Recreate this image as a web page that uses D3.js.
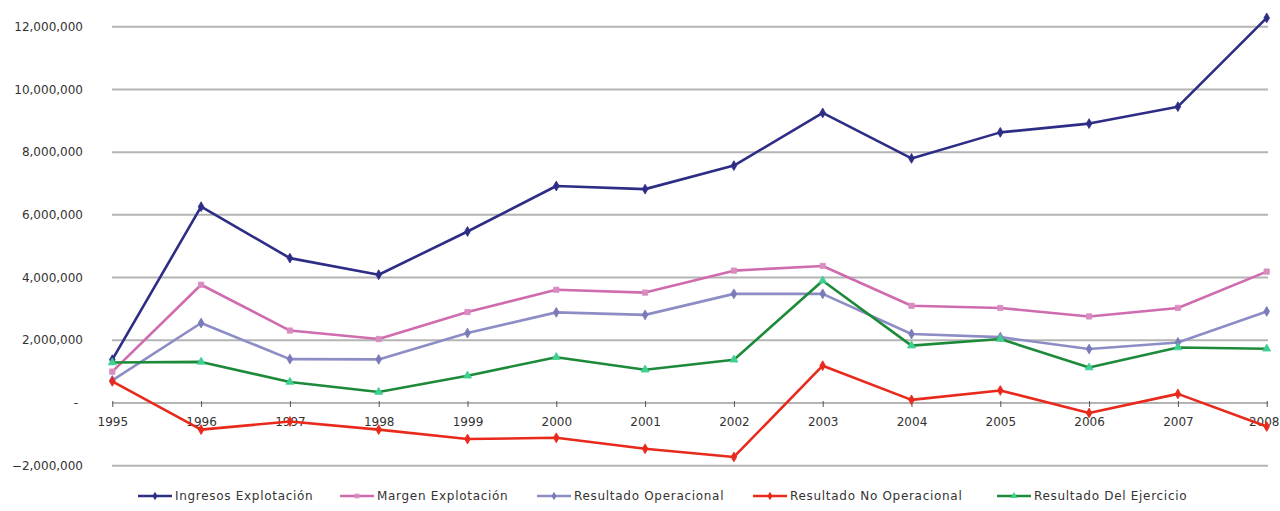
<!DOCTYPE html>
<html>
<head>
<meta charset="utf-8">
<script src="https://cdn.jsdelivr.net/npm/d3@7"></script>
<style>
  html, body { margin: 0; padding: 0; background: #fff; }
  svg text { font-family: "DejaVu Sans", Verdana, sans-serif; fill: #333; }
</style>
</head>
<body>
<svg id="chart" width="1280" height="511"></svg>
<script>
// data
var years = ["1995", "1996", "1997", "1998", "1999", "2000", "2001",
             "2002", "2003", "2004", "2005", "2006", "2007", "2008"];

var ingresosExplotacion = [1380000, 6260000, 4620000, 4090000, 5470000, 6920000, 6820000,
                           7570000, 9250000, 7800000, 8630000, 8910000, 9450000, 12280000];
var margenExplotacion   = [1000000, 3770000, 2310000, 2040000, 2900000, 3610000, 3520000,
                           4220000, 4370000, 3100000, 3030000, 2760000, 3030000, 4190000];
var resultadoOperacional = [720000, 2550000, 1400000, 1390000, 2230000, 2890000, 2810000,
                            3480000, 3480000, 2200000, 2100000, 1720000, 1930000, 2920000];
var resultadoNoOperacional = [690000, -850000, -590000, -850000, -1150000, -1110000, -1460000,
                              -1720000, 1190000, 100000, 400000, -320000, 290000, -750000];
var resultadoEjercicio  = [1290000, 1310000, 670000, 350000, 870000, 1460000, 1060000,
                           1380000, 3900000, 1830000, 2040000, 1130000, 1770000, 1730000];

var yTicks = [-2000000, 0, 2000000, 4000000, 6000000, 8000000, 10000000, 12000000];

var series = [
  { name: "Ingresos Explotación",     values: ingresosExplotacion,    color: "#2e2d86", mark: "#2e2d86", symbol: d3.symbolDiamond },
  { name: "Margen Explotación",       values: margenExplotacion,      color: "#cf6cae", mark: "#d98cc0", symbol: d3.symbolSquare },
  { name: "Resultado Operacional",    values: resultadoOperacional,   color: "#8d8dc6", mark: "#7a7ab8", symbol: d3.symbolDiamond },
  { name: "Resultado No Operacional", values: resultadoNoOperacional, color: "#e8291c", mark: "#e8291c", symbol: d3.symbolDiamond },
  { name: "Resultado Del Ejercicio",  values: resultadoEjercicio,     color: "#1d8a3a", mark: "#3fcf92", symbol: d3.symbolTriangle }
];

var svg = d3.select("#chart");

var x = d3.scalePoint()
    .domain(years)
    .range([112.3, 1266.7]);

var y = d3.scaleLinear()
    .domain([-2000000, 12000000])
    .range([465.7, 26.7]);

var fmt = function(d) { return d === 0 ? "-" : d3.format(",")(d); };

// horizontal grid
svg.append("g")
    .selectAll("line")
    .data(yTicks)
  .enter().append("line")
    .attr("x1", 112)
    .attr("x2", 1268)
    .attr("y1", function(d) { return y(d); })
    .attr("y2", function(d) { return y(d); })
    .attr("stroke", "#b4b4b4")
    .attr("stroke-width", 2);

// y labels
svg.append("g")
    .selectAll("text")
    .data(yTicks)
  .enter().append("text")
    .attr("x", function(d) { return d === 0 ? 78 : 83; })
    .attr("y", function(d) { return y(d); })
    .attr("dy", "0.35em")
    .attr("text-anchor", "end")
    .style("font-size", "12px")
    .text(fmt);

// x axis sits on the zero line
var xAxis = svg.append("g")
    .attr("transform", "translate(0," + y(0) + ")")
    .call(d3.axisBottom(x).tickSize(4).tickPadding(10));
xAxis.select(".domain").remove();
xAxis.selectAll(".tick line").attr("stroke", "#555").attr("y1", -2);
xAxis.selectAll(".tick text")
    .style("font-size", "12px")
    .style("fill", "#333")
    .style("font-family", "DejaVu Sans, Verdana, sans-serif");
// last year label sits against the right edge
xAxis.selectAll(".tick text")
    .filter(function(d) { return d === years[years.length - 1]; })
    .attr("text-anchor", "end")
    .attr("x", 1279 - x(years[years.length - 1]));

var line = d3.line()
    .x(function(d, i) { return x(years[i]); })
    .y(function(d) { return y(d); });

// lines + markers
series.forEach(function(s) {
  var g = svg.append("g");
  g.append("path")
      .datum(s.values)
      .attr("d", line)
      .attr("fill", "none")
      .attr("stroke", s.color)
      .attr("stroke-width", 2.6)
      .attr("stroke-linejoin", "round");
  g.selectAll("path.pt")
      .data(s.values)
    .enter().append("path")
      .attr("class", "pt")
      .attr("transform", function(d, i) { return "translate(" + x(years[i]) + "," + y(d) + ")"; })
      .attr("d", d3.symbol().type(s.symbol).size(28))
      .attr("fill", s.mark)
      .attr("stroke", s.mark)
      .attr("stroke-width", 0.8);
});

// legend
var legendX = [138, 340, 537, 753, 997];
var legend = svg.append("g")
    .selectAll("g")
    .data(series)
  .enter().append("g")
    .attr("transform", function(d, i) { return "translate(" + legendX[i] + ",496)"; });

legend.append("line")
    .attr("x1", 0).attr("x2", 34)
    .attr("stroke", function(d) { return d.color; })
    .attr("stroke-width", 2.6);
legend.append("path")
    .attr("transform", "translate(17,0)")
    .attr("d", function(d) { return d3.symbol().type(d.symbol).size(22)(); })
    .attr("fill", function(d) { return d.mark; });
legend.append("text")
    .attr("x", 37)
    .attr("dy", "0.35em")
    .style("font-size", "12px")
    .style("letter-spacing", "0.7px")
    .text(function(d) { return d.name; });
</script>
</body>
</html>
